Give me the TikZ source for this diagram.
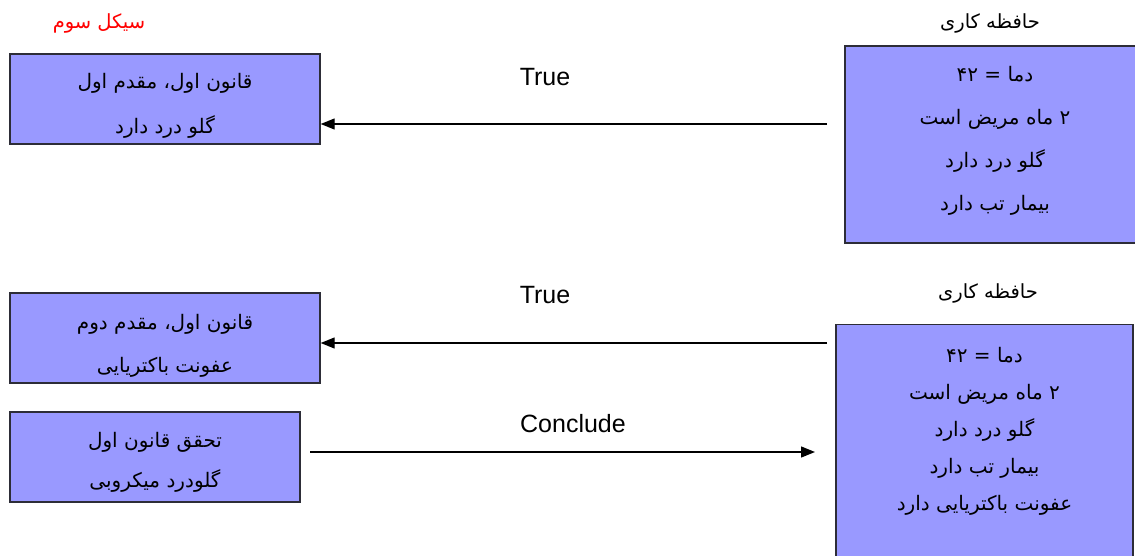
\documentclass[tikz,border=0pt]{standalone}
\usepackage{fontspec}
\usetikzlibrary{arrows.meta}
\setmainfont{Liberation Sans}
\newfontfamily\farsi[Script=Arabic]{DejaVu Sans}
\TeXXeTstate=1
\definecolor{boxblue}{RGB}{153,153,255}
\definecolor{boxline}{RGB}{45,45,55}
% one right-to-left line of Persian text
\newcommand{\faline}[1]{{\farsi\beginR #1\endR}}
% size of the Persian text, with the gap between lines as argument
\newcommand{\fasize}[1]{\fontsize{20}{#1}\selectfont}

\begin{document}
\begin{tikzpicture}[
    x=1pt, y=-1pt,
    every node/.style={inner sep=0pt},
    box/.style={draw=boxline, fill=boxblue, line width=1.4pt, align=center, text depth=0pt},
    heading/.style={font=\farsi\fontsize{19.5}{22}\selectfont},
    edgelabel/.style={font=\fontsize{25}{28}\selectfont},
    arr/.style={line width=1.3pt, -{Triangle[length=14pt,width=11pt]}}
  ]
  \clip (0,0) rectangle (1135,556);

  % first step: the rule is tried against working memory
  \node[heading, text=red] (cycle) at (99,23) {\faline{سیکل سوم}};
  \node[heading] (wm1title) at (990,23) {\faline{حافظه کاری}};
  \node[box, minimum width=310pt, minimum height=90pt, font=\fasize{45}, text height=70pt]
    (rule1) at (165,99) {\faline{قانون اول، مقدم اول}\\\faline{گلو درد دارد}};
  \node[box, minimum width=300pt, minimum height=197pt, font=\fasize{43}, text height=132pt]
    (wm1) at (995,144.5) {\faline{دما = ۴۲}\\\faline{۲ ماه مریض است}\\
      \faline{گلو درد دارد}\\\faline{بیمار تب دارد}};
  \node[edgelabel] (true1) at (545,77) {True};
  \coordinate (from1) at (827,124);
  \draw[arr] (from1) -- (from1 -| rule1.east);

  % second step: the next premise holds, so the rule fires
  \node[heading] (wm2title) at (988,293) {\faline{حافظه کاری}};
  \node[box, minimum width=310pt, minimum height=90pt, font=\fasize{43}, text height=68pt]
    (rule2) at (165,338) {\faline{قانون اول، مقدم دوم}\\\faline{عفونت باکتریایی}};
  \node[box, minimum width=290pt, minimum height=90pt, font=\fasize{40}, text height=60pt]
    (fire) at (155,457) {\faline{تحقق قانون اول}\\\faline{گلودرد میکروبی}};
  % text sits near the top, the box runs on below the edge
  \node[box, anchor=north, minimum width=297pt, inner ysep=24pt, text height=162pt,
    text depth=60pt, font=\fasize{37}] (wm2) at (984.5,324)
    {\faline{دما = ۴۲}\\\faline{۲ ماه مریض است}\\
      \faline{گلو درد دارد}\\\faline{بیمار تب دارد}\\\faline{عفونت باکتریایی دارد}};
  \node[edgelabel] (true2) at (545,295) {True};
  \node[edgelabel] (conclude) at (573,424) {Conclude};
  \coordinate (from2) at (827,343);
  \coordinate (from3) at (310,452);
  \coordinate (to3) at (815,452);
  \draw[arr] (from2) -- (from2 -| rule2.east);
  \draw[arr] (from3) -- (to3);
\end{tikzpicture}
\end{document}
